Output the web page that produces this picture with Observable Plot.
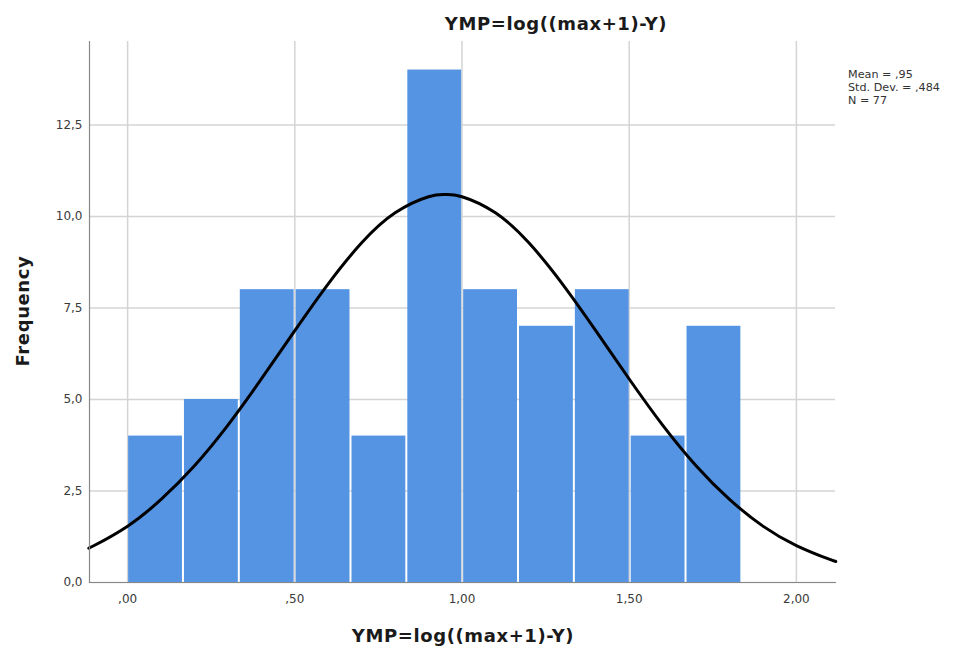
<!DOCTYPE html>
<html><head><meta charset="utf-8">
<script src="https://cdn.jsdelivr.net/npm/d3@7"></script>
<script src="https://cdn.jsdelivr.net/npm/@observablehq/plot@0.6"></script>
<style>
body{margin:0;background:#fff;}
#wrap{position:relative;width:963px;height:648px;font-family:"DejaVu Sans",sans-serif;}
.t{position:absolute;white-space:nowrap;color:#1a1a1a;transform:translate(-50%,-50%);}
.b{font-weight:bold;font-size:18px;letter-spacing:0.6px;}
#legend{position:absolute;left:848px;top:68px;font-size:11.2px;line-height:13px;color:#333;}
</style></head><body><div id="wrap"></div>
<script>
// Histogram bins (YMP values) and frequencies
const binStart = [0.000, 0.167, 0.334, 0.501, 0.668, 0.835, 1.002, 1.169, 1.336, 1.503, 1.670];
const binEnd   = [0.167, 0.334, 0.501, 0.668, 0.835, 1.002, 1.169, 1.336, 1.503, 1.670, 1.837];
const counts   = [4, 5, 8, 8, 4, 14, 8, 7, 8, 4, 7];

// Normal curve points
const curveX = [-0.114, -0.1, 0.0, 0.1, 0.2, 0.3, 0.4, 0.5, 0.6, 0.7, 0.8, 0.9, 0.95, 1.0, 1.1, 1.2, 1.3, 1.4, 1.5, 1.6, 1.7, 1.8, 1.9, 2.0, 2.1, 2.117];
const curveY = [0.95, 1.01, 1.54, 2.27, 3.19, 4.30, 5.56, 6.88, 8.16, 9.28, 10.10, 10.54, 10.60, 10.54, 10.10, 9.28, 8.16, 6.88, 5.56, 4.30, 3.19, 2.27, 1.54, 1.01, 0.63, 0.58];

// Axis ticks
const xTicks = [0, 0.5, 1, 1.5, 2];
const xTickLabels = [",00", ",50", "1,00", "1,50", "2,00"];
const yTicks = [0, 2.5, 5, 7.5, 10, 12.5];
const yTickLabels = ["0,0", "2,5", "5,0", "7,5", "10,0", "12,5"];

const titleText = "YMP=log((max+1)-Y)";
const xLabel = "YMP=log((max+1)-Y)";
const yLabel = "Frequency";
const legendLines = ["Mean = ,95", "Std. Dev. = ,484", "N = 77"];

const bars = counts.map((c, i) => ({x1: binStart[i], x2: binEnd[i], y: c}));
const curve = curveX.map((x, i) => ({x, y: curveY[i]}));
const fx = d => xTickLabels[xTicks.indexOf(d)];
const fy = d => yTickLabels[yTicks.indexOf(d)];

const chart = Plot.plot({
  width: 963, height: 648,
  marginLeft: 89, marginRight: 128, marginTop: 41, marginBottom: 66,
  style: {fontFamily: "DejaVu Sans, sans-serif", fontSize: "12px", color: "#3a3a3a", background: "#fff"},
  x: {domain: [-0.114, 2.117], label: null},
  y: {domain: [0, 14.78], label: null},
  marks: [
    Plot.gridX(xTicks, {stroke: "#d4d4d4", strokeOpacity: 1, strokeWidth: 1.5}),
    Plot.gridY(yTicks, {stroke: "#d4d4d4", strokeOpacity: 1, strokeWidth: 1.5}),
    Plot.rectY(bars, {x1: "x1", x2: "x2", y: "y", fill: "#5594e3", insetLeft: 1, insetRight: 1}),
    Plot.lineY(curve, {x: "x", y: "y", stroke: "#000", strokeWidth: 3, curve: "natural"}),
    Plot.frame({anchor: "left", stroke: "#888", strokeWidth: 1.2}),
    Plot.frame({anchor: "bottom", stroke: "#888", strokeWidth: 1.2}),
    Plot.axisX(xTicks, {tickFormat: fx, tickSize: 0, tickPadding: 12, fontSize: 12, label: null}),
    Plot.axisY(yTicks, {tickFormat: fy, tickSize: 0, tickPadding: 7, fontSize: 12, label: null})
  ]
});

const wrap = document.getElementById("wrap");
wrap.appendChild(chart);

function addText(txt, x, y, cls, extra) {
  const d = document.createElement("div");
  d.className = "t " + cls;
  d.textContent = txt;
  d.style.left = x + "px";
  d.style.top = y + "px";
  if (extra) d.style.transform = extra;
  wrap.appendChild(d);
}
addText(titleText, 556, 23, "b");
addText(xLabel, 463, 635, "b");
addText(yLabel, 22, 311, "b", "translate(-50%,-50%) rotate(-90deg)");

const lg = document.createElement("div");
lg.id = "legend";
lg.innerHTML = legendLines.map(s => `<div>${s}</div>`).join("");
wrap.appendChild(lg);
</script>
</body></html>
